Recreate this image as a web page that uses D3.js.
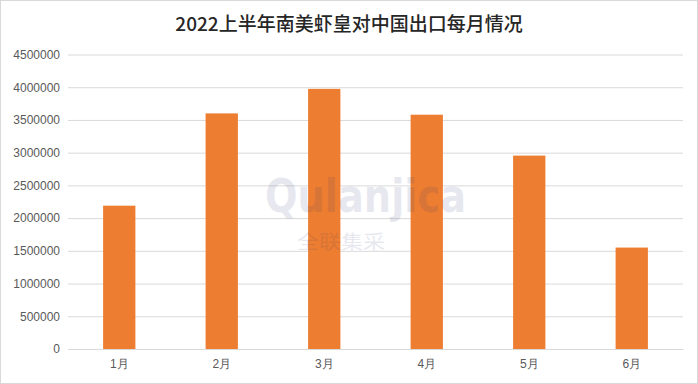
<!DOCTYPE html>
<html>
<head>
<meta charset="utf-8">
<script src="https://cdn.jsdelivr.net/npm/d3@7"></script>
<style>
  body { margin: 0; background: #fff; }
  svg { display: block; font-family: "Noto Sans CJK SC", "Noto Sans", sans-serif; }
</style>
</head>
<body>
<div id="chart"></div>
<script>
'use strict';
/* global d3:true */

const title = "2022上半年南美虾皇对中国出口每月情况";
const months = ["1月", "2月", "3月", "4月", "5月", "6月"];
const exports = [2190000, 3600000, 3975000, 3580000, 2955000, 1550000];
const yTicks = [0, 500000, 1000000, 1500000, 2000000, 2500000, 3000000, 3500000, 4000000, 4500000];

const width = 698, height = 384;
const margin = {top: 54.5, right: 15, bottom: 35, left: 68};
const color = {bar: "#ED7D31", grid: "#d9d9d9", text: "#595959", title: "#262626"};

const svg = d3.select("#chart")
    .append("svg")
    .attr("width", width)
    .attr("height", height);

// outer frame
svg.append("rect")
    .attr("x", 0.5).attr("y", 0.5)
    .attr("width", width - 1).attr("height", height - 1)
    .attr("fill", "#fff")
    .attr("stroke", color.grid);

const x = d3.scaleBand()
    .domain(months)
    .range([margin.left, width - margin.right])
    .paddingInner(0.685)
    .paddingOuter(0.3425);

const y = d3.scaleLinear()
    .domain([0, 4500000])
    .range([height - margin.bottom, margin.top]);

// grid + y labels
const yAxis = svg.append("g")
    .attr("transform", `translate(${margin.left},0)`)
    .call(d3.axisLeft(y).tickValues(yTicks).tickFormat(d3.format("d"))
        .tickSize(-(width - margin.left - margin.right)).tickPadding(8));
yAxis.select(".domain").remove();
yAxis.selectAll(".tick line").attr("stroke", color.grid);
yAxis.selectAll(".tick text")
    .attr("fill", color.text)
    .style("font-size", "12px");

// bars
svg.append("g")
    .selectAll("rect")
    .data(months)
    .enter()
    .append("rect")
        .attr("x", d => x(d))
        .attr("width", x.bandwidth())
        .attr("y", (d, i) => y(exports[i]))
        .attr("height", (d, i) => y(0) - y(exports[i]))
        .attr("fill", color.bar);

// x axis
const xAxis = svg.append("g")
    .attr("transform", `translate(0,${y(0)})`)
    .call(d3.axisBottom(x).tickSize(0).tickPadding(10));
xAxis.select(".domain").attr("stroke", color.grid);
xAxis.selectAll(".tick text")
    .attr("fill", color.text)
    .style("font-size", "12px");

// watermark
const mark = svg.append("g").attr("fill", "#1f2d6b").attr("opacity", 0.1);
mark.append("text")
    .attr("x", 265).attr("y", 212)
    .attr("textLength", 201)
    .attr("lengthAdjust", "spacingAndGlyphs")
    .style("font-family", "'DejaVu Sans', sans-serif")
    .style("font-weight", "bold")
    .style("font-size", "46px")
    .text("Qulanjica");
mark.append("text")
    .attr("x", 297).attr("y", 249)
    .attr("textLength", 88)
    .attr("lengthAdjust", "spacingAndGlyphs")
    .style("font-size", "19px")
    .text("全联集采");

// title
svg.append("text")
    .attr("x", width / 2)
    .attr("y", 31)
    .attr("text-anchor", "middle")
    .attr("fill", color.title)
    .style("font-size", "19px")
    .style("font-weight", 500)
    .text(title);
</script>
</body>
</html>
